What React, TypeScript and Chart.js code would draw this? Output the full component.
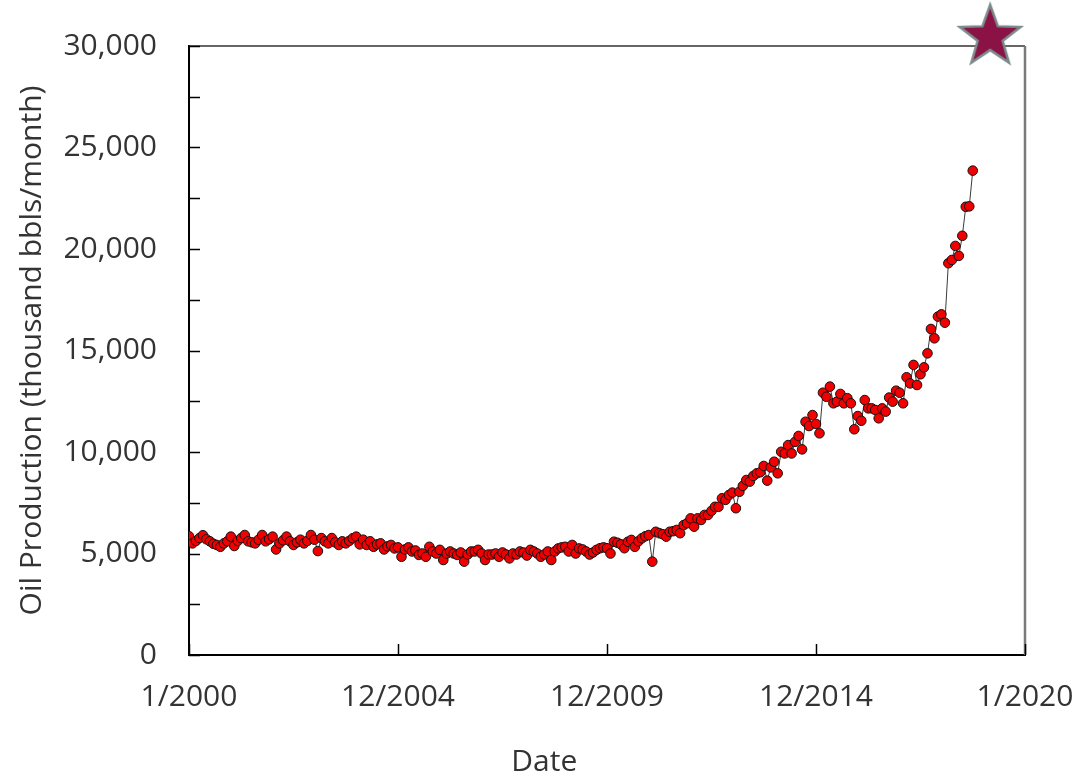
import React, { useEffect, useRef } from 'react';
import { Chart, registerables } from 'chart.js';

Chart.register(...registerables);

// Monthly oil production, thousand bbls/month, starting 1/2000 (x = months since 1/2000)
const prod2000 = [5850, 5500, 5620, 5760, 5900, 5700, 5600, 5480, 5420, 5330, 5500, 5600];
const prod2001 = [5830, 5370, 5620, 5760, 5910, 5600, 5550, 5500, 5680, 5910, 5600, 5700];
const prod2002 = [5830, 5200, 5500, 5650, 5830, 5600, 5420, 5550, 5680, 5500, 5620, 5910];
const prod2003 = [5680, 5120, 5760, 5600, 5500, 5760, 5550, 5420, 5600, 5500, 5620, 5750];
const prod2004 = [5830, 5450, 5680, 5420, 5600, 5330, 5450, 5500, 5200, 5350, 5420, 5250];
const prod2005 = [5300, 4840, 5200, 5300, 5100, 5150, 4930, 5000, 4840, 5330, 5100, 5000];
const prod2006 = [5180, 4680, 5000, 5100, 5000, 4930, 5050, 4600, 4950, 5100, 5100, 5180];
const prod2007 = [5000, 4680, 4950, 4950, 5000, 4840, 5050, 4950, 4760, 5000, 4950, 5100];
const prod2008 = [5050, 4900, 5180, 5100, 5000, 4840, 4950, 5100, 4680, 5100, 5250, 5300];
const prod2009 = [5330, 5100, 5420, 5000, 5250, 5200, 5100, 4950, 5050, 5180, 5260, 5300];
const prod2010 = [5260, 5000, 5580, 5530, 5450, 5260, 5580, 5670, 5330, 5600, 5750, 5850];
const prod2011 = [5910, 4600, 6070, 6000, 5950, 5830, 6070, 6100, 6160, 6000, 6400, 6490];
const prod2012 = [6730, 6320, 6730, 6650, 6900, 6900, 7100, 7300, 7300, 7720, 7640, 7880];
const prod2013 = [8000, 7230, 8040, 8330, 8620, 8540, 8820, 8950, 9000, 9310, 8590, 9240];
const prod2014 = [9520, 8950, 10010, 9930, 10340, 9930, 10500, 10790, 10130, 11490, 11280, 11820];
const prod2015 = [11380, 10920, 12920, 12720, 13220, 12400, 12480, 12860, 12400, 12650, 12400, 11120];
const prod2016 = [11770, 11540, 12560, 12150, 12150, 12070, 11660, 12150, 11990, 12680, 12480, 13020];
const prod2017 = [12920, 12400, 13680, 13380, 14290, 13300, 13830, 14170, 14860, 16060, 15600, 16670];
const prod2018 = [16780, 16370, 19300, 19460, 20150, 19660, 20650, 22080, 22100, 23860];

const production = [
  ...prod2000, ...prod2001, ...prod2002, ...prod2003, ...prod2004,
  ...prod2005, ...prod2006, ...prod2007, ...prod2008, ...prod2009,
  ...prod2010, ...prod2011, ...prod2012, ...prod2013, ...prod2014,
  ...prod2015, ...prod2016, ...prod2017, ...prod2018,
];

const xTickValues = [0, 60, 120, 180, 240];
const xTickLabels = ['1/2000', '12/2004', '12/2009', '12/2014', '1/2020'];
const yTickValues = [0, 2500, 5000, 7500, 10000, 12500, 15000, 17500, 20000, 22500, 25000, 27500, 30000];
const yLabelValues = [0, 5000, 10000, 15000, 20000, 25000, 30000];
const starPoint = [{ x: 230, y: 30450 }];
const xTitle = 'Date';
const yTitle = 'Oil Production (thousand bbls/month)';

const FONT = '"Open Sans", sans-serif';
const TEXT = '#333333';

function makeStar(): HTMLCanvasElement {
  const R = 32;
  const r = R * 0.41;
  const size = Math.ceil(2 * R + 8);
  const c = document.createElement('canvas');
  c.width = size;
  c.height = size;
  const ctx = c.getContext('2d') as CanvasRenderingContext2D;
  const cx = size / 2;
  const cy = size / 2;
  ctx.beginPath();
  for (let i = 0; i < 10; i++) {
    const rad = i % 2 === 0 ? R : r;
    const a = -Math.PI / 2 + (i * Math.PI) / 5;
    const px = cx + rad * Math.cos(a);
    const py = cy + rad * Math.sin(a);
    if (i === 0) ctx.moveTo(px, py);
    else ctx.lineTo(px, py);
  }
  ctx.closePath();
  ctx.fillStyle = '#8a1245';
  ctx.fill();
  ctx.lineJoin = 'miter';
  ctx.lineWidth = 2.5;
  ctx.strokeStyle = '#7b8a8b';
  ctx.stroke();
  return c;
}

const framePlugin = {
  id: 'frameAndTicks',
  beforeDatasetsDraw(chart: any) {
    const { ctx, chartArea } = chart;
    const { left, right, top, bottom } = chartArea;
    ctx.save();
    ctx.strokeStyle = '#333333';
    ctx.lineWidth = 1.5;
    ctx.beginPath();
    ctx.moveTo(left, top);
    ctx.lineTo(right, top);
    ctx.stroke();
    ctx.strokeStyle = '#7a7a7a';
    ctx.lineWidth = 2.5;
    ctx.beginPath();
    ctx.moveTo(right, top);
    ctx.lineTo(right, bottom);
    ctx.stroke();
    ctx.strokeStyle = '#000000';
    ctx.lineWidth = 1.5;
    const ys = chart.scales.y;
    ys.ticks.forEach((t: any) => {
      const py = Math.round(ys.getPixelForValue(t.value)) + 0.5;
      ctx.beginPath();
      ctx.moveTo(left, py);
      ctx.lineTo(left + 11, py);
      ctx.stroke();
    });
    const xs = chart.scales.x;
    xs.ticks.forEach((t: any) => {
      const px = Math.round(xs.getPixelForValue(t.value)) + 0.5;
      ctx.beginPath();
      ctx.moveTo(px, bottom);
      ctx.lineTo(px, bottom - 11);
      ctx.stroke();
    });
    ctx.restore();
  },
  afterDraw(chart: any) {
    // x-axis title, placed slightly left of the plot centre as in the source
    const { ctx, chartArea } = chart;
    ctx.save();
    ctx.fillStyle = TEXT;
    ctx.font = `30px ${FONT}`;
    ctx.textAlign = 'center';
    ctx.textBaseline = 'middle';
    const cx = chartArea.left + (chartArea.right - chartArea.left) * 0.425;
    ctx.fillText(xTitle, cx, 762);
    ctx.restore();
  },
};

export default function App() {
  const ref = useRef<HTMLCanvasElement | null>(null);

  useEffect(() => {
    if (!ref.current) return;
    const star = makeStar();
    const chart = new Chart(ref.current, {
      type: 'line',
      data: {
        datasets: [
          {
            label: 'Oil Production',
            data: production.map((v, i) => ({ x: i, y: v })),
            borderColor: '#3a3a3a',
            borderWidth: 1,
            pointRadius: 4.8,
            pointBackgroundColor: '#f00000',
            pointBorderColor: '#111111',
            pointBorderWidth: 1,
            tension: 0,
            fill: false,
          },
          {
            label: 'Target',
            data: starPoint,
            showLine: false,
            pointStyle: star as any,
            pointRadius: 40,
            pointBorderWidth: 0,
            clip: false as any,
          },
        ],
      },
      options: {
        responsive: false,
        animation: false,
        devicePixelRatio: 1,
        events: [],
        layout: { padding: { left: 0, right: 59, top: 46, bottom: 0 } },
        plugins: {
          legend: { display: false },
          tooltip: { enabled: false },
        },
        scales: {
          x: {
            type: 'linear',
            min: 0,
            max: 240,
            afterBuildTicks: (s: any) => {
              s.ticks = xTickValues.map((v) => ({ value: v }));
            },
            afterFit: (s: any) => {
              s.height = 122;
              s.paddingLeft = 0;
              s.paddingRight = 0;
            },
            grid: { display: true, drawOnChartArea: false, drawTicks: false },
            border: { display: true, color: '#000000', width: 2 },
            ticks: {
              autoSkip: false,
              maxRotation: 0,
              padding: 24,
              color: TEXT,
              font: { family: FONT, size: 30, lineHeight: 1.2 },
              callback: (v: any) => {
                const i = xTickValues.indexOf(Number(v));
                return i >= 0 ? xTickLabels[i] : '';
              },
            },
            title: { display: false },
          },
          y: {
            type: 'linear',
            min: 0,
            max: 30000,
            afterBuildTicks: (s: any) => {
              s.ticks = yTickValues.map((v) => ({ value: v }));
            },
            afterFit: (s: any) => {
              s.width = 189;
              s.paddingTop = 0;
              s.paddingBottom = 0;
            },
            grid: { display: true, drawOnChartArea: false, drawTicks: false },
            border: { display: true, color: '#000000', width: 2 },
            ticks: {
              autoSkip: false,
              padding: 32,
              color: TEXT,
              font: { family: FONT, size: 30, lineHeight: 1.2 },
              callback: (v: any) =>
                yLabelValues.indexOf(Number(v)) >= 0 ? Number(v).toLocaleString('en-US') : '',
            },
            title: {
              display: true,
              text: yTitle,
              color: TEXT,
              font: { family: FONT, size: 30, lineHeight: 1.2 },
              padding: { top: 14, bottom: 0 },
            },
          },
        },
      },
      plugins: [framePlugin],
    } as any);
    return () => chart.destroy();
  }, []);

  return (
    <div
      style={{
        position: 'fixed',
        left: 0,
        top: 0,
        width: 1084,
        height: 777,
        background: '#ffffff',
      }}
    >
      <canvas ref={ref} width={1084} height={777} style={{ display: 'block', width: 1084, height: 777 }} />
    </div>
  );
}
